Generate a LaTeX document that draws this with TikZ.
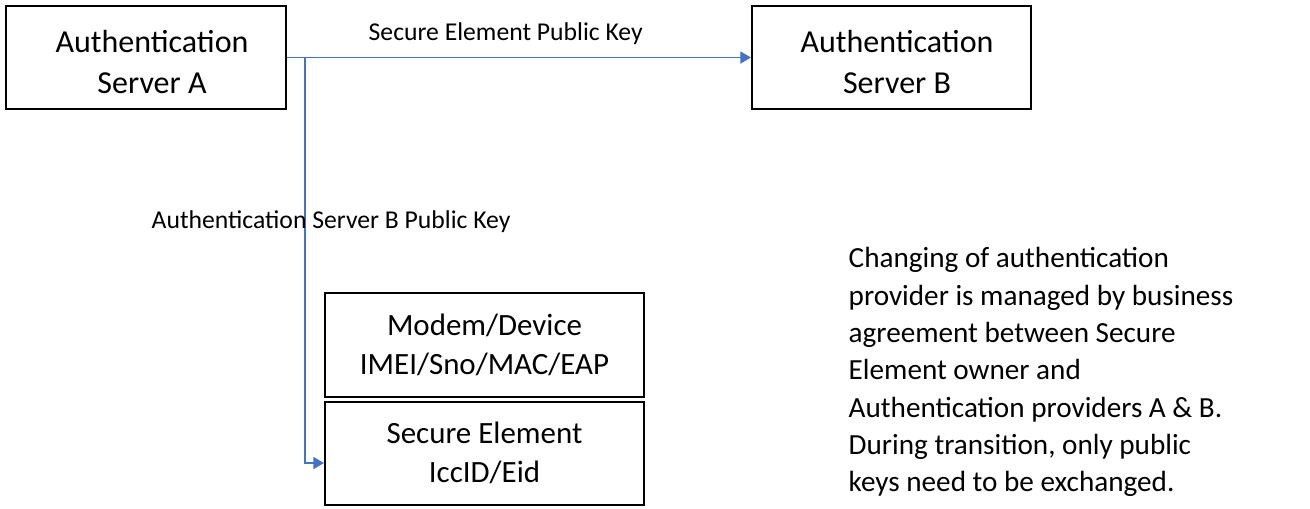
\documentclass[tikz,border=0pt]{standalone}
\usepackage{fontspec}
\setmainfont{Carlito}
\usetikzlibrary{arrows.meta}

\definecolor{linkblue}{HTML}{4472C4}

\tikzset{
    box/.style={draw=black, line width=0.6pt, inner sep=0pt},
    boxtext/.style={align=center, inner sep=0pt,
        font=\fontsize{9.1}{11.4}\selectfont},
    link/.style={draw=linkblue, line width=0.5pt, -{Triangle[width=3.4pt,length=3pt]}},
    lbl/.style={font=\fontsize{7.3}{9}\selectfont, inner sep=0pt}
}

\begin{document}
\begin{tikzpicture}[x=0.01cm, y=-0.01cm]
        \useasboundingbox (0,0) rectangle (1310,508);

        % servers
        \node[box, minimum width=280*0.01cm, minimum height=103*0.01cm] (srvA) at (146,57.5) {};
        \node[boxtext] (srvAtext) at (152,62) {Authentication\\Server A};
        \node[box, minimum width=279*0.01cm, minimum height=103*0.01cm] (srvB) at (891.5,57.5) {};
        \node[boxtext] (srvBtext) at (897,62) {Authentication\\Server B};

        % device side
        \node[box, minimum width=319*0.01cm, minimum height=104*0.01cm] (modem) at (484.5,345) {};
        \node[boxtext, font=\fontsize{8.8}{11}\selectfont] (modemtext) at (484.5,345) {Modem/Device\\IMEI/Sno/MAC/EAP};
        \node[box, minimum width=319*0.01cm, minimum height=103*0.01cm] (secel) at (484.5,453.5) {};
        \node[boxtext, font=\fontsize{8.8}{11}\selectfont] (seceltext) at (484.5,453) {Secure Element\\IccID/Eid};

        \node[anchor=north west, align=left, inner sep=0pt,
              font=\fontsize{8.3}{10.6}\selectfont] (note) at (848,247)
            {Changing of authentication\\provider is managed by business\\agreement between Secure\\Element owner and\\Authentication providers A \& B.\\During transition, only public\\keys need to be exchanged.};

        \coordinate (split) at (305,57.5);
        \coordinate (seIn) at (secel.west |- 0,463);

        \draw[link] (srvA.east) -- (srvB.west);
        \draw[link] (split) |- (seIn);

        \node[lbl, anchor=west] (keySE) at (368,34) {Secure Element Public Key};
        \node[lbl, anchor=west] (keyB) at (151,221.5) {Authentication Server B Public Key};

    \end{tikzpicture}
\end{document}
